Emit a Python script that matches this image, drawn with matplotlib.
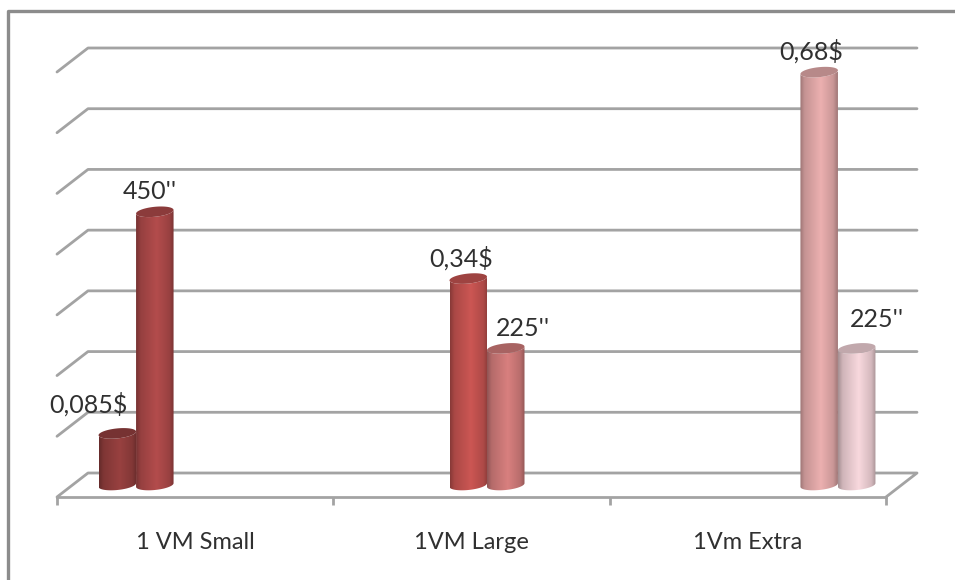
import matplotlib
matplotlib.use("Agg")
import matplotlib.pyplot as plt
import numpy as np
from matplotlib.colors import to_rgb
from matplotlib.patches import Polygon

categories = ["1 VM Small", "1VM Large", "1Vm Extra"]
cost_values = [0.085, 0.34, 0.68]
time_values = [0.45, 0.225, 0.225]
cost_labels = ["0,085$", "0,34$", "0,68$"]
time_labels = ["450''", "225''", "225''"]
levels = [0.1, 0.2, 0.3, 0.4, 0.5, 0.6, 0.7]

cost_colors = ["#943f3e", "#c65451", "#e5abab"]
time_colors = ["#ae4a4a", "#d27c7b", "#f1d2d7"]
group_pos = [0.23, 1.5, 2.77]
cost_offsets = [(-29, 29), (-7, 20), (-8, 21)]
time_offsets = [(-5, 20), (17, 20), (20, 29)]

WIDTH, HEIGHT = 955, 580
LEFT, RIGHT, FLOOR, TOP = 57, 886, 497, 72
GRID = "#a3a3a3"
TEXT = "#303030"

# sizes of the oblique projection, in axis units
px_x = 3 / (RIGHT - LEFT)
px_y = 0.7 / (FLOOR - TOP)
depth_x = 31 * px_x
depth_y = 24 * px_y
cyl_w = 37.5 * px_x
cap_h = 5 * px_y
tilt = 1.8 * px_y


def ring(cx, y, t):
    return cx + cyl_w / 2 * np.cos(t), y + cap_h * np.sin(t) + tilt * np.cos(t)


def cylinder(ax, cx, value, color, zorder):
    base = depth_y / 2
    top = base + value
    t = np.linspace(np.pi, 2 * np.pi, 40)
    bx, by = ring(cx, base, t)
    tx, ty = ring(cx, top, t[::-1])
    outline = np.column_stack([np.r_[bx, tx], np.r_[by, ty]])
    body = Polygon(outline, closed=True, transform=ax.transData, fc="none", ec="none")
    ax.add_patch(body)

    # horizontal shading across the tube, bright just right of the middle
    u = np.linspace(0, 1, 128)
    shade = np.interp(u, [0, 0.12, 0.55, 0.88, 1], [0.68, 0.86, 1.03, 0.88, 0.7])
    strip = np.clip(np.outer(shade, to_rgb(color)), 0, 1)[np.newaxis, :, :]
    extent = (cx - cyl_w / 2, cx + cyl_w / 2, base - 2 * cap_h, top + 3 * cap_h)
    im = ax.imshow(strip, extent=extent, aspect="auto", interpolation="bilinear", zorder=zorder)
    im.set_clip_path(body)

    # lid
    t = np.linspace(0, 2 * np.pi, 60)
    lx, ly = ring(cx, top, t)
    lid = np.clip(np.array(to_rgb(color)) * 0.8, 0, 1)
    ax.fill(lx, ly, color=lid, lw=0, zorder=zorder + 0.1, clip_on=False)
    return top


fig = plt.figure(figsize=(WIDTH / 100, HEIGHT / 100), dpi=100)
plt.rcParams["font.family"] = ["Lato", "DejaVu Sans"]
ax = fig.add_axes([LEFT / WIDTH, 1 - FLOOR / HEIGHT, (RIGHT - LEFT) / WIDTH, (FLOOR - TOP) / HEIGHT])
ax.set_xlim(0, 3)
ax.set_ylim(0, 0.7)
ax.autoscale(False)
ax.patch.set_visible(False)

for side in ["left", "right", "top"]:
    ax.spines[side].set_visible(False)
ax.spines["bottom"].set_color(GRID)
ax.spines["bottom"].set_linewidth(2)
ax.set_yticks([])
ax.set_xticks([0, 1, 2, 3])
ax.set_xticklabels([])
ax.tick_params(axis="x", which="major", length=6, width=2, color=GRID)
ax.set_xticks([0.5, 1.5, 2.5], minor=True)
ax.set_xticklabels(categories, minor=True, fontsize=17, color=TEXT)
ax.tick_params(axis="x", which="minor", length=0, pad=25)

# back wall lines with their oblique stubs on the left
line_style = dict(color=GRID, lw=2, clip_on=False, zorder=1, solid_capstyle="round")
for y in levels:
    ax.plot([0, depth_x, 3 + depth_x], [y, y + depth_y, y + depth_y], **line_style)

# floor outline
ax.plot([0, depth_x, 3 + depth_x, 3], [0, depth_y, depth_y, 0], **line_style)

for i, cx in enumerate(group_pos):
    cx = cx + depth_x / 2
    left = cx - cyl_w / 2
    right = cx + cyl_w / 2
    top_c = cylinder(ax, left, cost_values[i], cost_colors[i], 3)
    top_t = cylinder(ax, right, time_values[i], time_colors[i], 4)
    ax.annotate(cost_labels[i], (left, top_c), xytext=cost_offsets[i], textcoords="offset pixels",
                ha="center", va="center", fontsize=18, color=TEXT, zorder=6, annotation_clip=False)
    ax.annotate(time_labels[i], (right, top_t), xytext=time_offsets[i], textcoords="offset pixels",
                ha="center", va="center", fontsize=18, color=TEXT, zorder=6, annotation_clip=False)

# outer frame, open on the right and bottom
fig.add_artist(plt.Line2D([8 / WIDTH, 8 / WIDTH, 1], [0, 1 - 11 / HEIGHT, 1 - 11 / HEIGHT],
                          color="#8c8c8c", lw=2.4, transform=fig.transFigure))

fig.savefig("out.png", dpi=100, facecolor="white")
plt.close(fig)
